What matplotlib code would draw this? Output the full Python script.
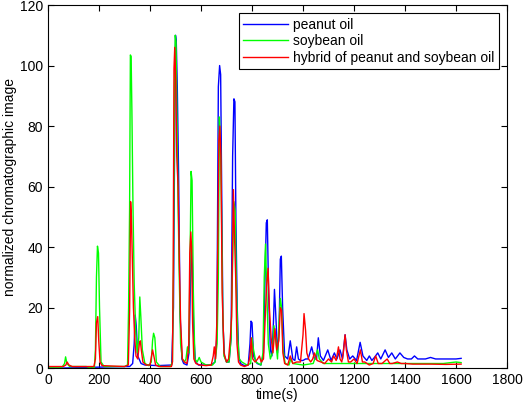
import numpy as np
import matplotlib
matplotlib.use('Agg')
import matplotlib.pyplot as plt

# peanut oil (blue)
t_peanut = [0, 60, 150, 250, 320, 332, 338, 342, 346, 352, 365, 380, 430, 485, 492, 496,
            500, 503, 507, 512, 518, 525, 532, 545, 553, 558, 562, 566, 571, 578, 590,
            640, 655, 662, 668, 673, 677, 681, 686, 692, 700, 710, 718, 724, 729, 733, 737,
            742, 748, 755, 770, 785, 792, 796, 800, 806, 820, 835, 845, 851, 856, 860, 865,
            872, 878, 884, 888, 893, 900, 906, 911, 915, 920, 928, 940, 950, 960, 968, 975,
            982, 990, 1000, 1010, 1020, 1034, 1045, 1053, 1060, 1068, 1080, 1097, 1110,
            1123, 1133, 1145, 1155, 1165, 1172, 1183, 1195, 1210, 1224, 1235, 1250, 1260,
            1270, 1280, 1293, 1305, 1322, 1335, 1348, 1362, 1380, 1395, 1410, 1425, 1437,
            1450, 1465, 1480, 1500, 1520, 1550, 1580, 1600, 1620]
peanut = [0.0, 0.0, 0.2, 0.4, 0.5, 1.5, 8, 17.5, 14, 4, 1.5, 1.0, 0.8, 1.0, 20, 68,
          110, 108, 93, 65, 18, 3, 1.5, 1.0, 5, 25, 41, 34, 12, 2, 1.0,
          1.0, 2, 10, 93, 100, 97, 60, 15, 4, 2, 2, 10, 70, 89, 88, 48,
          20, 4, 1.5, 0.8, 1.0, 8, 15.5, 15, 4, 1.5, 1.0, 5, 30, 48, 49, 25,
          6, 4, 15, 26, 18, 5, 12, 36, 37, 20, 4, 3, 9, 3, 2.5, 7,
          3, 2.5, 2.5, 3, 3, 7, 3, 3, 10, 4, 2.5, 6, 2.5,
          5, 3, 6, 3, 11, 6, 3, 4, 2.5, 8.5, 4, 2.5, 4,
          2.5, 3.5, 5, 3, 6, 3.5, 5, 3, 5, 3.5, 3.0, 3.0, 4,
          3.0, 3.0, 3.0, 3.5, 3.0, 3.0, 3.0, 3.0, 3.2]

# soybean oil (green)
t_soy = [0, 55, 65, 69, 74, 85, 150, 170, 182, 186, 190, 194, 198, 202, 208, 220, 300,
         312, 316, 320, 323, 326, 329, 333, 338, 344, 350, 356, 360, 364, 370, 380, 395,
         405, 410, 414, 419, 425, 440, 480, 488, 492, 496, 499, 502, 506, 510, 515, 520,
         527, 535, 541, 547, 552, 557, 561, 565, 570, 576, 585, 593, 600, 620, 645, 655,
         663, 668, 672, 676, 680, 685, 690, 700, 710, 718, 724, 729, 734, 738, 744, 750,
         760, 780, 795, 800, 806, 815, 835, 843, 848, 853, 858, 864, 872, 880, 886, 892,
         900, 906, 911, 916, 922, 930, 945, 952, 960, 1000, 1040, 1050, 1057, 1064, 1080,
         1150, 1250, 1350, 1450, 1550, 1600, 1620]
soybean = [0.3, 0.3, 1.5, 3.7, 1.5, 0.5, 0.5, 0.0, 0.2, 6, 30, 40.3, 38, 20, 2, 0.5, 0.5,
           1, 20, 53, 103.5, 103, 85, 55, 28, 12, 5, 10, 23.5, 17, 6, 1.5, 0.8,
           2, 9, 11.5, 10, 2, 0.5, 0.5, 2, 33, 90, 110, 108, 80, 55, 29, 8,
           3, 2, 3, 7, 5, 35, 65, 62, 25, 3, 2, 3.5, 2, 1.0, 1.0, 2,
           8, 30, 83, 75, 55, 20, 4, 2, 2, 10, 35, 55, 52, 30, 10, 3,
           2, 1, 1.5, 10, 6, 2, 1, 5, 30, 41, 25, 8, 3, 5, 14, 10,
           3, 15, 23, 20, 6, 1.5, 1.0, 3, 1.5, 1.0, 1.5, 4, 6, 3, 1.5,
           1.5, 1.5, 1.5, 1.5, 1.5, 2.0, 1.8]

# hybrid of peanut and soybean oil (red)
t_hybrid = [0, 60, 70, 75, 82, 95, 180, 186, 190, 195, 199, 204, 212, 300,
            315, 320, 324, 327, 331, 335, 340, 345, 352, 358, 362, 366, 372, 385,
            400, 406, 410, 415, 422, 435, 484, 488, 491, 494, 497, 501, 505, 510,
            515, 520, 527, 535, 545, 552, 556, 560, 563, 567, 572, 580, 595, 620,
            640, 648, 652, 657, 662, 666, 670, 674, 678, 683, 690, 700, 708, 715,
            720, 727, 731, 736, 741, 747, 755, 770, 785, 792, 797, 803, 812, 822,
            829, 836, 845, 851, 857, 863, 868, 875, 882, 890, 897, 905, 911, 916,
            921, 928, 940, 950, 960, 975, 990, 1000, 1004, 1010, 1015, 1022, 1030, 1038,
            1045, 1055, 1070, 1085, 1100, 1112, 1120, 1130, 1139, 1145, 1152, 1158, 1165,
            1170, 1178, 1187, 1200, 1212, 1225, 1233, 1242, 1260, 1275, 1285, 1295, 1310,
            1330, 1340, 1350, 1370, 1385, 1400, 1430, 1500, 1560, 1620]
hybrid = [0.5, 0.5, 1.0, 2, 1.0, 0.5, 0.5, 3, 15, 17, 9, 2, 0.8, 0.5,
          1, 19, 55, 50, 35, 20, 10, 4, 3, 8, 9, 6, 2, 1,
          1, 4, 6, 4, 1, 0.5, 0.5, 2, 33, 99, 106, 95, 70, 60,
          35, 15, 3, 2, 1.5, 8, 38, 45, 40, 15, 3, 1.5, 1.0, 0.8,
          1.0, 4, 7, 3, 15, 43, 75, 80, 70, 25, 5, 2, 3, 10,
          17, 59, 45, 30, 8, 2, 1, 0.5, 1, 4, 10, 3, 2, 3,
          4, 2, 3, 15, 27, 33, 20, 10, 5, 13, 6, 9, 20, 19,
          5, 1.5, 1.0, 4, 1.5, 2, 2, 11, 18, 12.5, 5, 3, 2, 3,
          5, 2.5, 2, 1.5, 3, 2, 4, 2.5, 7, 3, 2, 5, 11,
          6, 2, 2, 3, 1.5, 6, 2, 2, 1, 1.5, 4, 1.5, 1.5,
          3, 1.5, 1.5, 2, 1.5, 1.5, 1.3, 1.3, 1.2, 1.3]

plt.rcParams['font.family'] = ['Liberation Sans', 'DejaVu Sans']

fig = plt.figure(figsize=(5.24, 4.04), dpi=100)
ax = fig.add_axes([0.0916, 0.089, 0.876, 0.8985])
ax.plot(t_peanut, peanut, color='#0000ff', lw=1.0, label='peanut oil')
ax.plot(t_soy, soybean, color='#00ff00', lw=1.0, label='soybean oil')
ax.plot(t_hybrid, hybrid, color='#ff0000', lw=1.0, label='hybrid of peanut and soybean oil')

ax.set_xlim(0, 1800)
ax.set_ylim(0, 120)
ax.set_xticks(np.arange(0, 1801, 200))
ax.set_yticks(np.arange(0, 121, 20))
ax.tick_params(direction='in', top=True, right=True, labelsize=10, length=4, width=0.8)
for s in ax.spines.values():
    s.set_linewidth(0.8)
ax.set_xlabel('time(s)', fontsize=10, labelpad=1)
ax.set_ylabel('normalized chromatographic image', fontsize=10, labelpad=2)

leg = ax.legend(loc='upper right', fontsize=10, fancybox=False, framealpha=1,
                edgecolor='black', borderaxespad=0.6, handlelength=3.2,
                handletextpad=0.4, borderpad=0.3, labelspacing=0.2)
leg.get_frame().set_linewidth(0.8)

plt.savefig('out.png', dpi=100)
plt.close()
